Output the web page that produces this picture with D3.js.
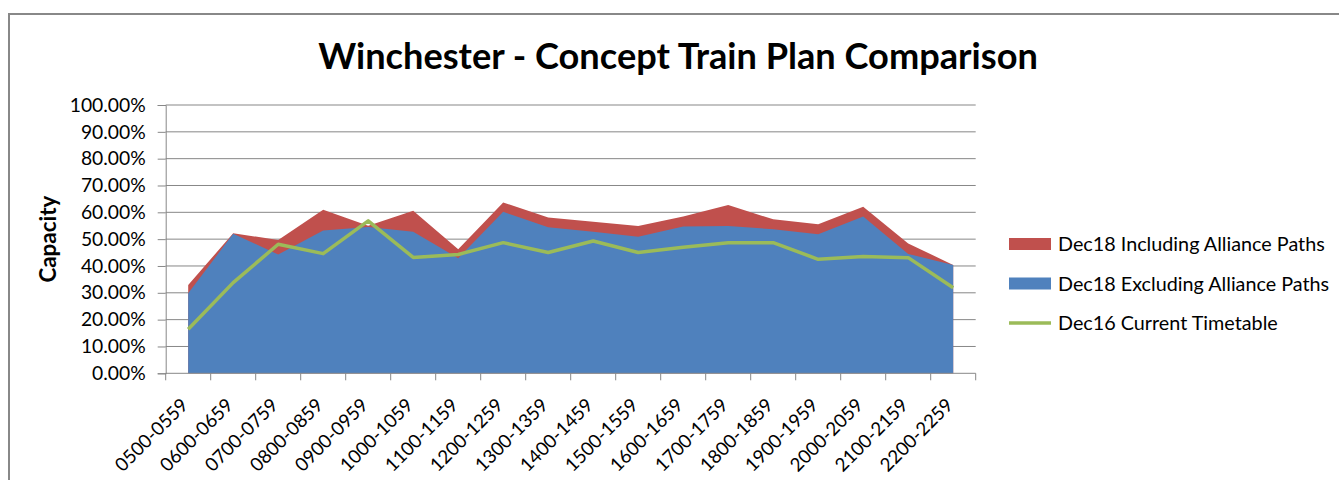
<!DOCTYPE html>
<html>
<head>
<meta charset="utf-8">
<script src="https://cdn.jsdelivr.net/npm/d3@7"></script>
<style>
  body { margin: 0; background: #fff; }
  text { font-family: Lato, "Open Sans", sans-serif; fill: #000; }
</style>
</head>
<body>
<svg id="chart"></svg>
<script>
// Chart data
const categories = ['0500-0559', '0600-0659', '0700-0759', '0800-0859', '0900-0959', '1000-1059',
    '1100-1159', '1200-1259', '1300-1359', '1400-1459', '1500-1559', '1600-1659',
    '1700-1759', '1800-1859', '1900-1959', '2000-2059', '2100-2159', '2200-2259'];
const includingAlliance = [32.9, 52.2, 49.7, 61.0, 55.0, 60.6, 46.2, 63.7, 58.1, 56.5, 54.9, 58.4,
    62.7, 57.4, 55.6, 62.1, 48.4, 40.4];
const excludingAlliance = [29.8, 52.0, 44.3, 53.2, 54.5, 52.8, 42.9, 60.2, 54.4, 52.8, 50.9, 54.7,
    54.9, 53.7, 51.8, 58.4, 44.5, 40.4];
const currentTimetable = [16.4, 33.8, 48.1, 44.6, 56.8, 43.2, 44.3, 48.7, 45.0, 49.3, 45.0, 47.0,
    48.7, 48.7, 42.5, 43.5, 43.1, 31.9];
const yTicks = [0, 10, 20, 30, 40, 50, 60, 70, 80, 90, 100];
const seriesNames = ['Dec18 Including Alliance Paths', 'Dec18 Excluding Alliance Paths', 'Dec16 Current Timetable'];

const width = 1339;
const height = 480;
const margin = {top: 105, right: 363.3, bottom: 106.7, left: 165.7};
const colors = ['#C0504D', '#4F81BD', '#9BBB59'];
const gridColor = '#878787';

let svg = d3.select('#chart')
    .attr('width', width)
    .attr('height', height);

// frame round the chart (right and bottom edges are cut off)
svg.append('path')
    .attr('d', 'M9,480V14H1339')
    .attr('fill', 'none')
    .attr('stroke', '#888')
    .attr('stroke-width', 2);

// scale a font so a sample string gets a given width
function fitSize(sample, target, weight) {
    let t = svg.append('text').attr('font-size', 20).attr('font-weight', weight || 'normal').text(sample);
    let w = t.node().getComputedTextLength();
    t.remove();
    return 20 * target / w;
}

const plotW = width - margin.left - margin.right;
const plotH = height - margin.top - margin.bottom;

let g = svg.append('g')
    .attr('transform', 'translate(' + margin.left + ',' + margin.top + ')');

let x = d3.scaleBand()
    .domain(categories)
    .range([0, plotW]);
let cx = d => x(d) + x.bandwidth() / 2;

let y = d3.scaleLinear()
    .domain([0, 100])
    .range([plotH, 0]);

// gridlines
g.append('g')
    .selectAll('line')
    .data(yTicks.slice(1))
    .join('line')
    .attr('x1', 0)
    .attr('x2', plotW)
    .attr('y1', d => y(d))
    .attr('y2', d => y(d))
    .attr('stroke', gridColor)
    .attr('stroke-width', 1);

// areas: including (red) behind excluding (blue)
let area = d3.area()
    .x((d, i) => cx(categories[i]))
    .y0(y(0))
    .y1(d => y(d));

g.append('path')
    .datum(includingAlliance)
    .attr('fill', colors[0])
    .attr('d', area);

g.append('path')
    .datum(excludingAlliance)
    .attr('fill', colors[1])
    .attr('d', area);

g.append('path')
    .datum(currentTimetable)
    .attr('fill', 'none')
    .attr('stroke', colors[2])
    .attr('stroke-width', 3.5)
    .attr('stroke-linejoin', 'round')
    .attr('d', d3.line()
        .x((d, i) => cx(categories[i]))
        .y(d => y(d)));

// y axis
const tickSize = fitSize('100.00%', 76);
let yAxis = g.append('g')
    .call(d3.axisLeft(y)
        .tickValues(yTicks)
        .tickSize(8)
        .tickPadding(12)
        .tickFormat(d => d.toFixed(2) + '%'));
yAxis.select('.domain').attr('stroke', gridColor);
yAxis.selectAll('.tick line').attr('stroke', gridColor);
yAxis.selectAll('.tick text')
    .attr('font-size', tickSize)
    .attr('font-family', 'Lato, sans-serif')
    .attr('fill', '#000');

// x axis, ticks on category boundaries
let xAxis = g.append('g')
    .attr('transform', 'translate(0,' + plotH + ')');
xAxis.append('line')
    .attr('x1', 0)
    .attr('x2', plotW)
    .attr('stroke', gridColor);
xAxis.selectAll('.tick')
    .data(categories.concat(['end']))
    .join('line')
    .attr('class', 'tick')
    .attr('x1', (d, i) => i * x.bandwidth())
    .attr('x2', (d, i) => i * x.bandwidth())
    .attr('y1', 0)
    .attr('y2', 7)
    .attr('stroke', gridColor);

const catSize = fitSize('0500-0559', 94);
xAxis.selectAll('.cat')
    .data(categories)
    .join('text')
    .attr('class', 'cat')
    .attr('text-anchor', 'end')
    .attr('font-size', catSize)
    .attr('transform', d => 'translate(' + (cx(d) + 1) + ',33) rotate(-45)')
    .text(d => d);

// axis title
svg.append('text')
    .attr('transform', 'translate(56,' + (margin.top + plotH / 2) + ') rotate(-90)')
    .attr('text-anchor', 'middle')
    .attr('font-weight', 'bold')
    .attr('font-size', fitSize('Capacity', 87, 'bold'))
    .text('Capacity');

// chart title
svg.append('text')
    .attr('x', 678)
    .attr('y', 69)
    .attr('text-anchor', 'middle')
    .attr('font-weight', 'bold')
    .attr('font-size', fitSize('Winchester - Concept Train Plan Comparison', 720, 'bold'))
    .text('Winchester - Concept Train Plan Comparison');

// legend
const legSize = fitSize(seriesNames[0], 267);
let legend = svg.append('g')
    .attr('transform', 'translate(1009,244)');
let item = legend.selectAll('g')
    .data(seriesNames)
    .join('g')
    .attr('transform', (d, i) => 'translate(0,' + (i * 39.5) + ')');
item.filter((d, i) => i < 2)
    .append('rect')
    .attr('x', 0)
    .attr('y', -6)
    .attr('width', 42)
    .attr('height', 12)
    .attr('fill', (d, i) => colors[i]);
item.filter((d, i) => i === 2)
    .append('line')
    .attr('x1', 0)
    .attr('x2', 42)
    .attr('stroke', colors[2])
    .attr('stroke-width', 3.5);
item.append('text')
    .attr('x', 49)
    .attr('dy', '0.36em')
    .attr('font-size', legSize)
    .text(d => d);
</script>
</body>
</html>
